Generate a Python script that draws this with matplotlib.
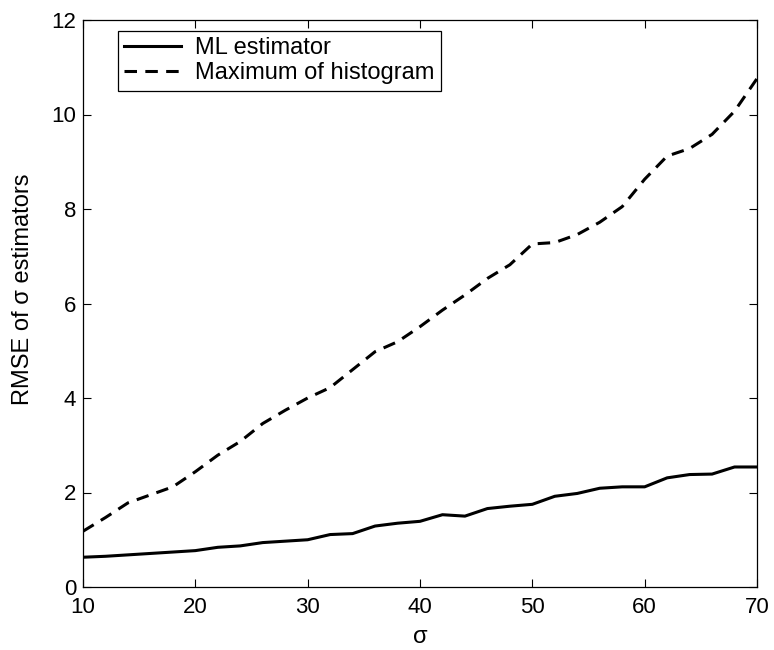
import matplotlib
matplotlib.use("Agg")
import matplotlib.pyplot as plt

sigma = [10, 12, 14, 16, 18, 20, 22, 24, 26, 28, 30, 32, 34, 36, 38, 40,
         42, 44, 46, 48, 50, 52, 54, 56, 58, 60, 62, 64, 66, 68, 70]
ml_rmse = [0.63, 0.65, 0.68, 0.71, 0.74, 0.77, 0.84, 0.87, 0.94, 0.97, 1.00,
           1.11, 1.13, 1.29, 1.35, 1.39, 1.53, 1.50, 1.66, 1.71, 1.75, 1.92,
           1.98, 2.09, 2.12, 2.12, 2.31, 2.38, 2.39, 2.54, 2.54]
hist_rmse = [1.18, 1.47, 1.78, 1.95, 2.12, 2.44, 2.79, 3.08, 3.46, 3.74, 4.00,
             4.22, 4.60, 4.98, 5.19, 5.51, 5.86, 6.18, 6.53, 6.82, 7.26, 7.29,
             7.46, 7.72, 8.05, 8.63, 9.12, 9.28, 9.58, 10.07, 10.76]
labels = ["ML estimator", "Maximum of histogram"]
xticks = [10, 20, 30, 40, 50, 60, 70]
yticks = [0, 2, 4, 6, 8, 10, 12]

plt.rcParams['font.family'] = ['Liberation Sans', 'DejaVu Sans']
plt.rcParams['lines.scale_dashes'] = False

fig = plt.figure(figsize=(7.74, 6.5), dpi=100)
ax = fig.add_axes([83/774, 1 - 587/650, (757 - 83)/774, (587 - 20)/650])

ax.plot(sigma, ml_rmse, color='black', lw=2.2, label=labels[0])
ax.plot(sigma, hist_rmse, color='black', lw=2.2, dashes=(9, 6), label=labels[1])

ax.set_xlim(10, 70)
ax.set_ylim(0, 12)
ax.set_xticks(xticks)
ax.set_yticks(yticks)
ax.tick_params(direction='in', length=6, width=0.8, top=True, right=True,
               labelsize=16, colors='black')
ax.tick_params(axis='x', pad=7)
ax.tick_params(axis='y', pad=5)
for s in ax.spines.values():
    s.set_linewidth(0.9)
ax.set_xlabel("σ", fontsize=17, va='bottom')
ax.set_ylabel("RMSE of σ estimators", fontsize=17)
ax.xaxis.set_label_coords(0.5, -0.108)
ax.yaxis.set_label_coords(-0.072, 0.525)

leg = ax.legend(loc='upper left', bbox_to_anchor=(0.052, 0.9806), fontsize=17,
                frameon=True, fancybox=False, edgecolor='black', framealpha=1,
                handlelength=2.4, handletextpad=0.6, borderpad=0.27,
                labelspacing=0.12, borderaxespad=0)
leg.get_frame().set_linewidth(0.9)

fig.savefig("out.png", dpi=100)
